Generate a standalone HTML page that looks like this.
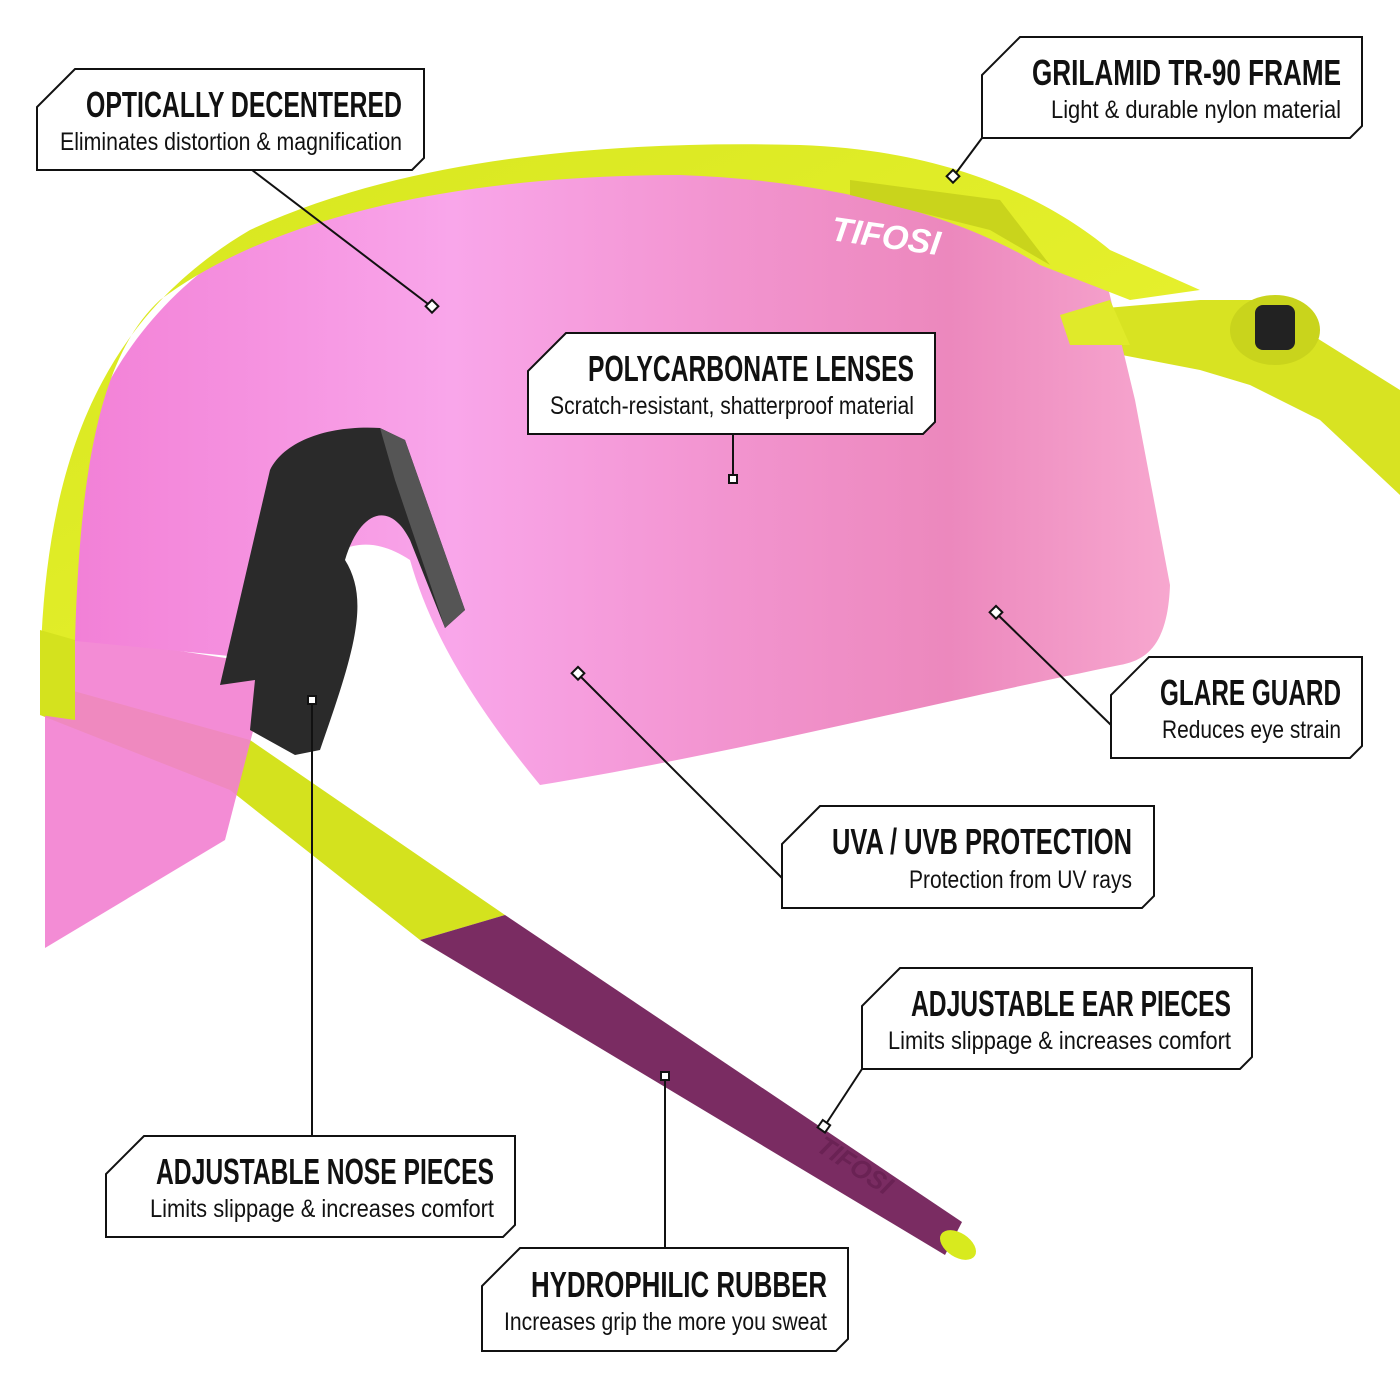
<!DOCTYPE html>
<html><head><meta charset="utf-8"><style>
html,body{margin:0;padding:0;background:#fff;}
svg{display:block;}
.t{font-family:"Liberation Sans Narrow","Liberation Sans",sans-serif;font-weight:bold;font-size:36px;fill:#111;}
.s{font-family:"Liberation Sans Narrow","Liberation Sans",sans-serif;font-size:25px;fill:#111;}
.box{fill:#fff;stroke:#111;stroke-width:2;}
.ln{stroke:#111;stroke-width:2;fill:none;}
.sq{fill:#fff;stroke:#111;stroke-width:2;}
</style></head><body>
<svg width="1400" height="1400" viewBox="0 0 1400 1400" xmlns="http://www.w3.org/2000/svg">
<defs>
<linearGradient id="lens" x1="0" y1="0" x2="1" y2="0">
<stop offset="0" stop-color="#f27fd6"/><stop offset="0.35" stop-color="#f9a6ea"/><stop offset="0.6" stop-color="#f294cf"/><stop offset="0.8" stop-color="#ec88bd"/><stop offset="1" stop-color="#f7a7cf"/>
</linearGradient>
<linearGradient id="yl" x1="0" y1="0" x2="1" y2="1">
<stop offset="0" stop-color="#d6e61e"/><stop offset="1" stop-color="#eef534"/>
</linearGradient>
<clipPath id="fc"><path d="M45,700 C45,500 85,335 255,235 C400,165 600,150 800,150 L1400,150 L1400,1400 L45,1400 Z"/></clipPath>
</defs>
<!-- right temple arm -->
<polygon points="1060,312 1200,300 1260,300 1320,340 1400,390 1400,495 1320,420 1250,385 1200,370 1070,345" fill="#d8e322"/>
<ellipse cx="1275" cy="330" rx="45" ry="35" fill="#c9d41c"/>
<rect x="1255" y="305" width="40" height="45" rx="8" fill="#222"/>
<!-- left temple -->
<polygon points="40,640 70,690 250,740 505,915 420,940 230,790 40,715" fill="#d4e21e"/>
<polygon points="420,940 505,915 962,1222 945,1255" fill="#7a2c62"/>
<ellipse cx="958" cy="1245" rx="20" ry="12" fill="#d8ea1e" transform="rotate(33 958 1245)"/>
<text x="815" y="1150" transform="rotate(33 815 1150)" font-family="Liberation Sans" font-weight="bold" font-style="italic" font-size="26" fill="#6a2254">TIFOSI</text>
<!-- lenses -->
<polygon points="45,630 270,665 225,840 45,948" fill="#f27fd0" opacity="0.9"/>
<path clip-path="url(#fc)" d="M65,640 C70,460 92,350 152,292 C275,200 480,165 680,165 C820,170 950,200 1040,255 L1105,275 L1135,400 L1170,585 C1168,640 1150,660 1120,665 C900,710 750,750 540,785 C470,700 430,630 410,560 C350,520 300,560 270,660 Z" fill="url(#lens)"/>
<!-- frame top -->
<path d="M40,700 C40,500 80,330 250,230 C400,160 600,140 800,145 C950,150 1050,200 1110,250 L1200,290 L1130,300 L1040,265 C950,210 820,180 680,175 C480,175 280,210 160,300 C100,355 80,470 75,640 Z" fill="url(#yl)"/>
<polygon points="40,630 75,640 75,720 40,715" fill="#d4e21e"/>
<polygon points="850,180 1000,200 1050,265 990,230 850,195" fill="#c9d41c"/>
<polygon points="1060,315 1110,300 1130,345 1070,345" fill="#e0ea2a"/>
<text x="830" y="240" transform="rotate(8 830 240)" font-family="Liberation Sans" font-weight="bold" font-style="italic" font-size="34" fill="#fff">TIFOSI</text>
<!-- nose pad -->
<path d="M220,685 L270,470 C285,440 330,425 380,428 L405,440 L465,610 L445,628 L410,540 C390,500 360,510 345,560 C370,600 355,650 320,750 L295,755 L250,730 L255,680 Z" fill="#2a2a2a"/>
<path d="M380,428 L405,440 L465,610 L445,628 L395,480 Z" fill="#555"/>
<!-- connectors -->
<g class="ln">
<line x1="252" y1="170" x2="432" y2="307"/>
<line x1="982" y1="138" x2="953" y2="177"/>
<line x1="733" y1="434" x2="733" y2="479"/>
<line x1="1111" y1="725" x2="996" y2="613"/>
<line x1="782" y1="878" x2="578" y2="674"/>
<line x1="862" y1="1069" x2="824" y2="1127"/>
<line x1="312" y1="1136" x2="312" y2="700"/>
<line x1="665" y1="1248" x2="665" y2="1076"/>
</g>
<g class="sq">
<rect x="427" y="302" width="9" height="9" transform="rotate(45 432 307)"/>
<rect x="948" y="172" width="9" height="9" transform="rotate(45 953 177)"/>
<rect x="729" y="475" width="8" height="8"/>
<rect x="991" y="608" width="9" height="9" transform="rotate(45 996 613)"/>
<rect x="573" y="669" width="9" height="9" transform="rotate(45 578 674)"/>
<rect x="819" y="1122" width="9" height="9" transform="rotate(35 824 1127)"/>
<rect x="308" y="696" width="8" height="8"/>
<rect x="661" y="1072" width="8" height="8"/>
</g>
<!-- boxes -->
<g class="box">
<polygon points="75,69 424,69 424,158 412,170 37,170 37,107"/>
<polygon points="1020,37 1362,37 1362,126 1350,138 982,138 982,75"/>
<polygon points="566,333 935,333 935,422 923,434 528,434 528,371"/>
<polygon points="1149,657 1362,657 1362,746 1350,758 1111,758 1111,695"/>
<polygon points="820,806 1154,806 1154,896 1142,908 782,908 782,844"/>
<polygon points="900,968 1252,968 1252,1057 1240,1069 862,1069 862,1006"/>
<polygon points="144,1136 515,1136 515,1225 503,1237 106,1237 106,1174"/>
<polygon points="520,1248 848,1248 848,1339 836,1351 482,1351 482,1286"/>
</g>
<g text-anchor="end">
<text class="t" x="402" y="117" textLength="316" lengthAdjust="spacingAndGlyphs">OPTICALLY DECENTERED</text>
<text class="s" x="402" y="150" textLength="342" lengthAdjust="spacingAndGlyphs">Eliminates distortion &amp; magnification</text>
<text class="t" x="1341" y="85" textLength="309" lengthAdjust="spacingAndGlyphs">GRILAMID TR-90 FRAME</text>
<text class="s" x="1341" y="118" textLength="290" lengthAdjust="spacingAndGlyphs">Light &amp; durable nylon material</text>
<text class="t" x="914" y="381" textLength="326" lengthAdjust="spacingAndGlyphs">POLYCARBONATE LENSES</text>
<text class="s" x="914" y="414" textLength="364" lengthAdjust="spacingAndGlyphs">Scratch-resistant, shatterproof material</text>
<text class="t" x="1341" y="705" textLength="181" lengthAdjust="spacingAndGlyphs">GLARE GUARD</text>
<text class="s" x="1341" y="738" textLength="179" lengthAdjust="spacingAndGlyphs">Reduces eye strain</text>
<text class="t" x="1132" y="854" textLength="300" lengthAdjust="spacingAndGlyphs">UVA / UVB PROTECTION</text>
<text class="s" x="1132" y="888" textLength="223" lengthAdjust="spacingAndGlyphs">Protection from UV rays</text>
<text class="t" x="1231" y="1016" textLength="320" lengthAdjust="spacingAndGlyphs">ADJUSTABLE EAR PIECES</text>
<text class="s" x="1231" y="1049" textLength="343" lengthAdjust="spacingAndGlyphs">Limits slippage &amp; increases comfort</text>
<text class="t" x="494" y="1184" textLength="338" lengthAdjust="spacingAndGlyphs">ADJUSTABLE NOSE PIECES</text>
<text class="s" x="494" y="1217" textLength="344" lengthAdjust="spacingAndGlyphs">Limits slippage &amp; increases comfort</text>
<text class="t" x="827" y="1297" textLength="296" lengthAdjust="spacingAndGlyphs">HYDROPHILIC RUBBER</text>
<text class="s" x="827" y="1330" textLength="323" lengthAdjust="spacingAndGlyphs">Increases grip the more you sweat</text>
</g>
</svg>
</body></html>
